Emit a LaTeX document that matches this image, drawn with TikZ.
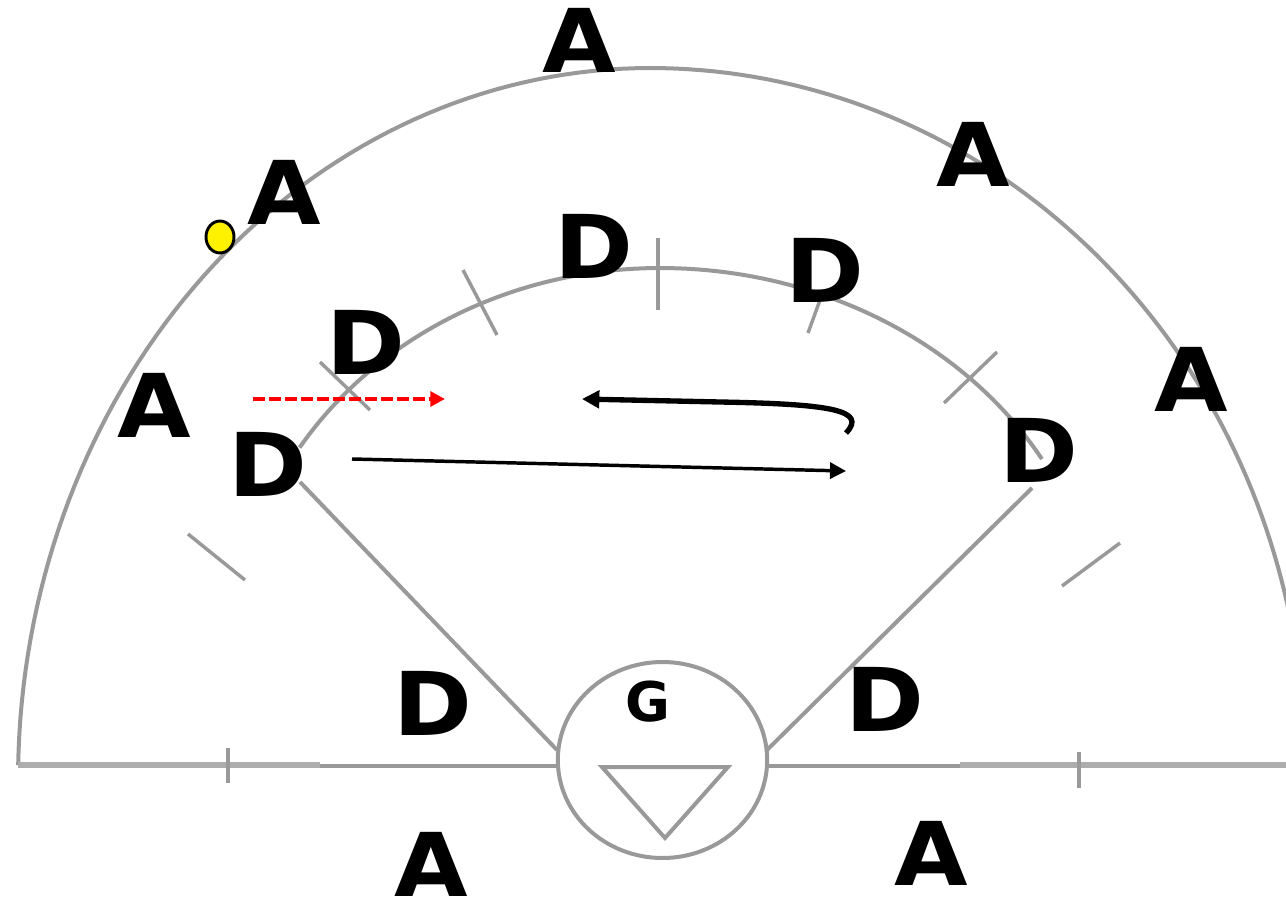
\documentclass[tikz,border=0pt]{standalone}
\usepackage{fontspec}
\setmainfont{DejaVu Sans}
\newfontfamily\playerfont{DejaVu Sans}[FakeStretch=1.08]
\usetikzlibrary{arrows.meta,shapes.geometric}
\definecolor{fieldgrey}{HTML}{999999}
\definecolor{linegrey}{HTML}{ADADAD}
\tikzset{
  player/.style={font=\fontsize{66}{66}\selectfont\playerfont\bfseries,inner sep=0pt,text=black,anchor=center},
  field/.style={draw=fieldgrey,line width=3pt},
  thin tick/.style={draw=fieldgrey,line width=2.6pt},
  run/.style={draw=black,line width=2.6pt,-{Triangle[length=12pt,width=12pt]}},
  bigrun/.style={draw=black,line width=4pt,-{Triangle[length=13pt,width=13pt]}},
  redrun/.style={draw=red,line width=3pt,dash pattern=on 9pt off 3pt,-{Triangle[length=11pt,width=11pt,fill=red]}},
}
\begin{document}
\begin{tikzpicture}[x=0.75pt,y=-0.75pt]
\useasboundingbox (0,0) rectangle (1286,899);
% outer arc
\draw[field] plot[domain=178.8:90,samples=70,variable=\t] ({650+632*cos(\t)},{780-712*sin(\t)})
  -- plot[domain=90:12,samples=70,variable=\t] ({650+655*cos(\t)},{765-697*sin(\t)});
% inner arc
\draw[field] plot[domain=148:90,samples=50,variable=\t] ({660+425*cos(\t)},{650-382*sin(\t)})
  -- plot[domain=90:30,samples=50,variable=\t] ({660+441*cos(\t)},{650-382*sin(\t)});
\coordinate (hL) at (557,750);
\coordinate (hR) at (767,750);
\coordinate (lineL) at (18,765);
\coordinate (lineR) at (1286,765);
\draw[field] (300,482) -- (hL);
\draw[field] (1032,488) -- (hR);
\draw[field] (320,765.5) -- (556,765.5);
\draw[field] (768,765.5) -- (960,765.5);
\draw[draw=linegrey,line width=4.4pt] (lineL) -- (320,765);
\draw[draw=linegrey,line width=4.4pt] (960,765) -- (lineR);
\node[draw=fieldgrey,line width=3pt,ellipse,minimum width=157pt,minimum height=147pt,inner sep=0pt] (circ) at (662.5,760) {};
\draw[field,line join=miter] (602,767) -- (728,767) -- (665,838) -- cycle;
% ticks
\draw[thin tick] (228,748) -- (228,783);
\draw[thin tick] (1079,752) -- (1079,788);
\draw[thin tick] (188,534) -- (245,580);
\draw[thin tick] (1120,543) -- (1062,586);
\draw[thin tick] (658,238) -- (658,310);
\draw[thin tick] (463,270) -- (497,335);
\draw[thin tick] (820,300) -- (808,333);
\draw[thin tick] (320,362) -- (370,410);
\draw[thin tick] (997,352) -- (944,403);
% ball
\node[draw=black,fill=yellow,line width=2.2pt,ellipse,minimum width=21pt,minimum height=24pt,inner sep=0pt] (ball) at (220,237) {};
% labels
\node[player] (a1) at (579,40) {A};
\node[player] (a2) at (284,192) {A};
\node[player] (a3) at (973,154) {A};
\node[player] (a4) at (154,405) {A};
\node[player] (a5) at (1191,379) {A};
\node[player] (a6) at (431,864) {A};
\node[player] (a7) at (931,853) {A};
\node[player] (d1) at (594,246) {D};
\node[player] (d2) at (825,270) {D};
\node[player] (d3) at (366,342) {D};
\node[player] (d4) at (268,464) {D};
\node[player] (d5) at (1039,450) {D};
\node[player] (d6) at (433,703) {D};
\node[player] (d7) at (885,699) {D};
\node[font=\fontsize{41}{41}\selectfont\bfseries,inner sep=0pt] (g) at (648,702) {G};
% arrows
\coordinate (r1) at (253,399); \coordinate (r2) at (445,399);
\draw[redrun] (r1) -- (r2);
\coordinate (b1) at (352,459); \coordinate (b2) at (846,471);
\draw[run] (b1) -- (b2);
\coordinate (c1) at (846,433); \coordinate (c2) at (582,399);
\draw[bigrun] (c1) .. controls (868,410) and (830,404) .. (720,402) -- (c2);
\end{tikzpicture}
\end{document}
